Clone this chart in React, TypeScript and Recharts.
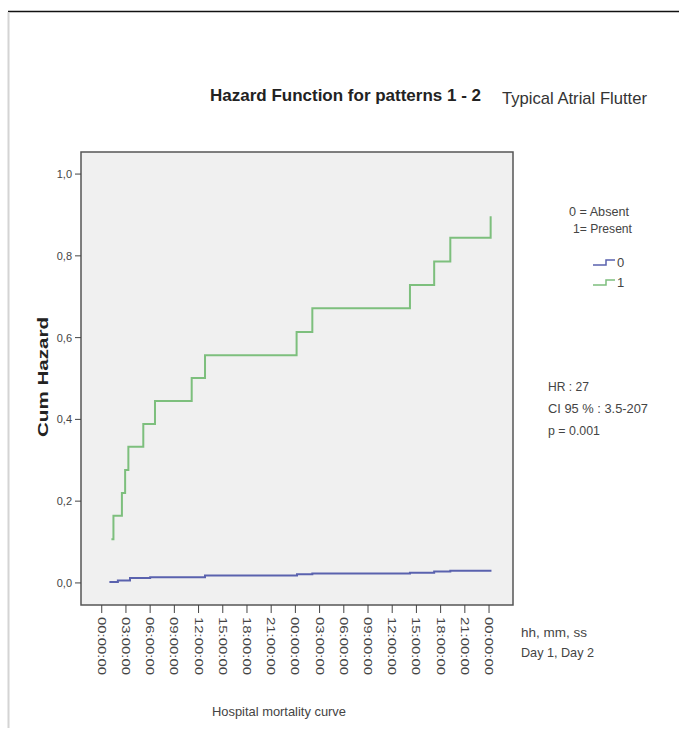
import { LineChart, Line, XAxis, YAxis, CartesianGrid, ReferenceArea, Legend } from 'recharts';

// Cumulative hazard (hours since admission)
const absentHours = [0.95, 2.0, 3.5, 6.0, 12.8, 24.2, 26.1, 38.2, 41.2, 43.2, 48.3];
const absentHazard = [0.002, 0.006, 0.012, 0.014, 0.018, 0.021, 0.023, 0.025, 0.028, 0.03, 0.03];

const presentHours = [1.2, 1.45, 2.5, 2.9, 3.3, 5.15, 6.6, 11.15, 12.8, 24.15, 26.1, 38.2, 41.2, 43.2, 48.2];
const presentHazard = [0.107, 0.164, 0.22, 0.276, 0.333, 0.389, 0.445, 0.501, 0.557, 0.614, 0.672, 0.729, 0.786, 0.844, 0.897];

const xTickHours = [0, 3, 6, 9, 12, 15, 18, 21, 24, 27, 30, 33, 36, 39, 42, 45, 48];
const xTickLabels = [
  '00:00:00', '03:00:00', '06:00:00', '09:00:00', '12:00:00', '15:00:00', '18:00:00', '21:00:00',
  '00:00:00', '03:00:00', '06:00:00', '09:00:00', '12:00:00', '15:00:00', '18:00:00', '21:00:00',
  '00:00:00',
];
const yTicks = [0, 0.2, 0.4, 0.6, 0.8, 1.0];

const X_DOMAIN: [number, number] = [-2.57, 50.97];
const Y_DOMAIN: [number, number] = [-0.054, 1.054];

const FONT = '"Liberation Sans", Arial, sans-serif';
const BLUE = '#5a62ae';
const GREEN = '#7dbf7d';

const absentData = absentHours.map((h, i) => ({ h, v: absentHazard[i] }));
const presentData = presentHours.map((h, i) => ({ h, v: presentHazard[i] }));

const TimeTick = ({ x, y, index }: any) => (
  <g transform={`translate(${x},${y + 2})`}>
    <text
      transform="rotate(90)"
      x={0}
      y={0}
      dominantBaseline="central"
      textAnchor="start"
      fontFamily={FONT}
      fontSize={11}
      fill="#444"
      textLength={58}
      lengthAdjust="spacingAndGlyphs"
    >
      {xTickLabels[index]}
    </text>
  </g>
);

// legend entries drawn as little step glyphs like SPSS does
const StepLegend = ({ payload }: any) => (
  <div>
    {(payload || []).map((p: any) => (
      <div key={p.value} style={{ display: 'flex', alignItems: 'center', height: 20 }}>
        <svg width={23} height={12}>
          <path d="M0 9 H13 V4 H22" fill="none" stroke={p.color} strokeWidth={1.5} />
        </svg>
        <span style={{ fontFamily: FONT, fontSize: 13, color: '#444', marginLeft: 1 }}>{p.value}</span>
      </div>
    ))}
  </div>
);

export default function App() {
  return (
    <div style={{ position: 'absolute', left: 0, top: 0, width: 679, height: 734, background: '#fff' }}>
      <LineChart
        width={679}
        height={734}
        margin={{ top: 152, right: 166, bottom: 69, left: 41 }}
      >
        <CartesianGrid fill="#f0f0f0" horizontal={false} vertical={false} />
        <XAxis
          type="number"
          dataKey="h"
          domain={X_DOMAIN}
          ticks={xTickHours}
          allowDataOverflow
          axisLine={false}
          tickLine={{ stroke: '#444' }}
          tickSize={8}
          height={60}
          tick={<TimeTick />}
          interval={0}
        />
        <YAxis
          type="number"
          domain={Y_DOMAIN}
          ticks={yTicks}
          allowDataOverflow
          axisLine={false}
          tickLine={{ stroke: '#444' }}
          tickSize={6}
          tickMargin={3}
          width={40}
          tickFormatter={(v: number) => v.toFixed(1).replace('.', ',')}
          tick={{ fontFamily: FONT, fontSize: 11, fill: '#444' }}
        />
        <ReferenceArea
          x1={X_DOMAIN[0]}
          x2={X_DOMAIN[1]}
          y1={Y_DOMAIN[0]}
          y2={Y_DOMAIN[1]}
          fill="none"
          stroke="#555"
          strokeWidth={1.5}
        />
        <Line
          data={absentData}
          dataKey="v"
          name="0"
          type="stepAfter"
          stroke={BLUE}
          strokeWidth={2}
          dot={false}
          isAnimationActive={false}
        />
        <Line
          data={presentData}
          dataKey="v"
          name="1"
          type="stepAfter"
          stroke={GREEN}
          strokeWidth={2}
          dot={false}
          isAnimationActive={false}
        />
        <Legend
          layout="horizontal"
          verticalAlign="middle"
          align="center"
          content={<StepLegend />}
          wrapperStyle={{ left: 593, top: 252, width: 40, height: 40 }}
        />
      </LineChart>

      {/* titles and annotations */}
      <svg
        width={679}
        height={734}
        style={{ position: 'absolute', left: 0, top: 0, pointerEvents: 'none' }}
        fontFamily={FONT}
      >
        <line x1={8} y1={11.5} x2={679} y2={11.5} stroke="#111" strokeWidth={1.5} />
        <line x1={8.5} y1={12} x2={8.5} y2={728} stroke="#d4d4d4" strokeWidth={2} />

        <text x={210} y={101} fontSize={17} fontWeight="bold" fill="#222" textLength={271} lengthAdjust="spacingAndGlyphs">
          Hazard Function for patterns 1 - 2
        </text>
        <text x={502} y={104} fontSize={16.4} fill="#333" textLength={145} lengthAdjust="spacingAndGlyphs">
          Typical Atrial Flutter
        </text>

        <text x={569} y={216} fontSize={13} fill="#444" textLength={60} lengthAdjust="spacingAndGlyphs">
          0 = Absent
        </text>
        <text x={573} y={233} fontSize={13} fill="#444" textLength={59} lengthAdjust="spacingAndGlyphs">
          1= Present
        </text>

        <text x={548} y={391} fontSize={13} fill="#444" textLength={41} lengthAdjust="spacingAndGlyphs">
          HR : 27
        </text>
        <text x={548} y={413} fontSize={13} fill="#444" textLength={100} lengthAdjust="spacingAndGlyphs">
          CI 95 % : 3.5-207
        </text>
        <text x={548} y={435} fontSize={13} fill="#444" textLength={52} lengthAdjust="spacingAndGlyphs">
          p = 0.001
        </text>

        <text x={521} y={637} fontSize={13} fill="#444" textLength={66} lengthAdjust="spacingAndGlyphs">
          hh, mm, ss
        </text>
        <text x={521} y={657} fontSize={13} fill="#444" textLength={73} lengthAdjust="spacingAndGlyphs">
          Day 1, Day 2
        </text>

        <text x={212} y={716} fontSize={13} fill="#444" textLength={134} lengthAdjust="spacingAndGlyphs">
          Hospital mortality curve
        </text>

        <text
          transform="translate(48,377) rotate(-90)"
          textAnchor="middle"
          fontSize={14}
          fontWeight="bold"
          fill="#222"
          textLength={120}
          lengthAdjust="spacingAndGlyphs"
        >
          Cum Hazard
        </text>
      </svg>
    </div>
  );
}
